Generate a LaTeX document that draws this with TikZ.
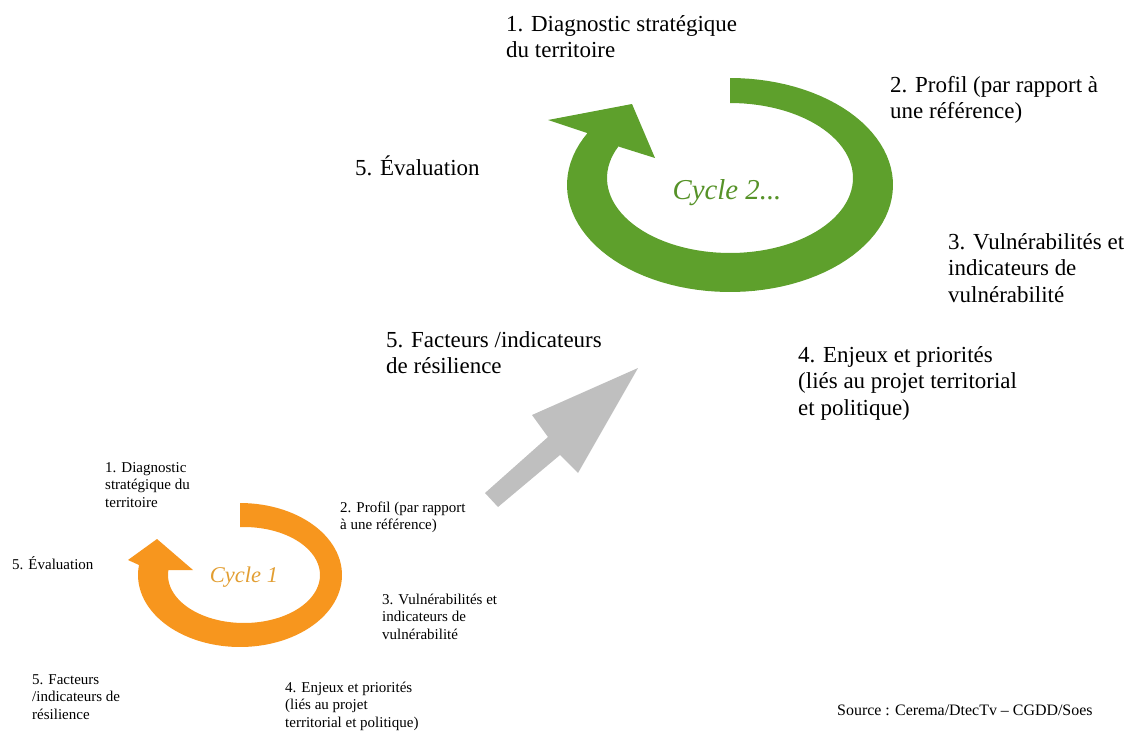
\documentclass[tikz,border=0pt]{standalone}
\usepackage{fontspec}
\setmainfont{Liberation Serif}
\usetikzlibrary{positioning}

\definecolor{ringgreen}{RGB}{94,160,44}
\definecolor{ringorange}{RGB}{247,150,30}
\definecolor{arrowgray}{RGB}{191,191,191}
\definecolor{titlegreen}{RGB}{86,146,40}
\definecolor{titleorange}{RGB}{226,158,50}

\begin{document}
\begin{tikzpicture}[x=0.03cm, y=-0.03cm]
    % Styles (nodes are placed at the baseline of their last line)
    \tikzstyle{label_big} = [anchor=base west, inner sep=0pt, align=left, font=\fontsize{19.6}{22.6}\selectfont]
    \tikzstyle{label_small} = [anchor=base west, inner sep=0pt, align=left, font=\fontsize{12.8}{14.9}\selectfont]
    \tikzstyle{cycle_title} = [inner sep=0pt, font=\itshape]
    \tikzstyle{ring_green} = [fill=ringgreen]
    \tikzstyle{ring_orange} = [fill=ringorange]
    \tikzstyle{big_arrow} = [fill=arrowgray]

    \useasboundingbox (0,0) rectangle (1127,731);

    % Cycle 2 (green ring)
    \fill [ring_green] plot[domain=90:-209, samples=90] ({730+163*cos(\x)},{185-107*sin(\x)})
        -- (548,120) -- (632,104) -- (655,158) -- (620,147)
        -- plot[domain=-205:90, samples=90] ({730+123*cos(\x)},{178-75*sin(\x)}) -- cycle;

    % Cycle 1 (orange ring)
    \fill [ring_orange] plot[domain=90:-188, samples=90] ({240+102*cos(\x)},{575-72*sin(\x)})
        -- (128,560) -- (157,539) -- (193,570) -- (168,570)
        -- plot[domain=-186:93, samples=90] ({244+76*cos(\x)},{575-48*sin(\x)}) -- cycle;

    % Gray arrow from cycle 1 to cycle 2
    \fill [big_arrow] (485,493) -- (548,437) -- (532,415) -- (638,368)
        -- (578,473) -- (560,455) -- (498,507) -- cycle;

    % Cycle 2 labels
    \node [cycle_title, font=\fontsize{24.6}{28}\selectfont\itshape, text=titlegreen] (c2) at (727,193) {Cycle 2...};
    \node [label_big] (d2) at (506,57.5) {1. Diagnostic stratégique\\du territoire};
    \node [label_big] (p2) at (890,118.5) {2. Profil (par rapport à\\une référence)};
    \node [label_big] (v2) at (948,302) {3. Vulnérabilités et\\indicateurs de\\vulnérabilité};
    \node [label_big] (e2) at (798,415) {4. Enjeux et priorités\\(liés au projet territorial\\et politique)};
    \node [label_big] (f2) at (386,373.5) {5. Facteurs /indicateurs\\de résilience};
    \node [label_big] (ev2) at (355,175) {5. Évaluation};

    % Cycle 1 labels
    \node [cycle_title, font=\fontsize{19.2}{22}\selectfont\itshape, text=titleorange] (c1) at (244,577) {Cycle 1};
    \node [label_small] (d1) at (105,507) {1. Diagnostic\\stratégique du\\territoire};
    \node [label_small] (p1) at (340,529.5) {2. Profil (par rapport\\à une référence)};
    \node [label_small] (v1) at (382,639) {3. Vulnérabilités et\\indicateurs de\\vulnérabilité};
    \node [label_small] (e1) at (285,727) {4. Enjeux et priorités\\(liés au projet\\territorial et politique)};
    \node [label_small] (f1) at (32,719) {5. Facteurs\\/indicateurs de\\résilience};
    \node [label_small] (ev1) at (12,569) {5. Évaluation};

    % Source
    \node [label_small, font=\fontsize{13.6}{16}\selectfont] (src) at (837,715) {Source : Cerema/DtecTv – CGDD/Soes};

\end{tikzpicture}
\end{document}
